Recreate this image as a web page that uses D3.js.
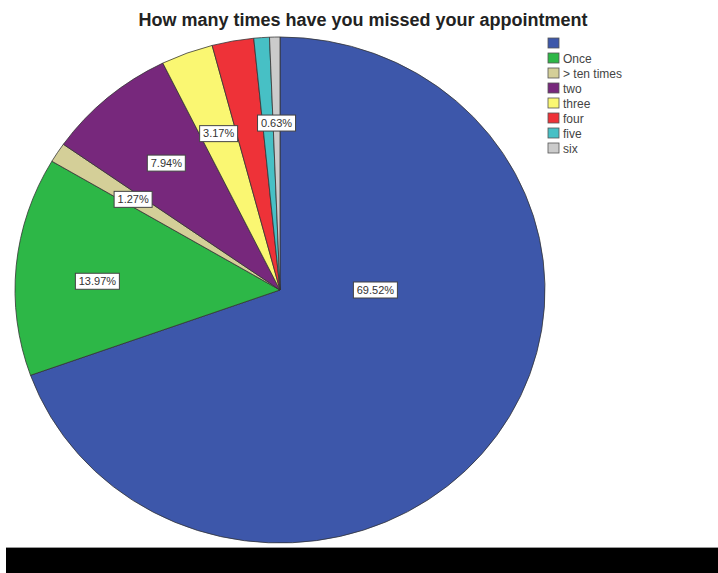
<!DOCTYPE html>
<html>
<head>
<meta charset="utf-8">
<script src="https://cdn.jsdelivr.net/npm/d3@7"></script>
<style>
  body { margin: 0; background: #fff; }
  svg { display: block; font-family: "Liberation Sans", Arial, sans-serif; }
</style>
</head>
<body>
<div id="chart"></div>
<script>
// answers, in the order the pie draws them (clockwise from 12 o'clock)
var categories = ["", "Once", "> ten times", "two", "three", "four", "five", "six"];
var percents = [69.52, 13.97, 1.27, 7.94, 3.17, 2.54, 0.95, 0.63];
var showLabel = [true, true, true, true, true, false, false, true];
var colors = ["#3d57aa", "#2db747", "#d4cf98", "#77287c", "#faf772", "#ee3238", "#47c0c5", "#cbcbcb"];

var width = 718, height = 573;
var cx = 280, cy = 290, rx = 265, ry = 253;

var svg = d3.select("#chart")
  .append("svg")
    .attr("width", width)
    .attr("height", height);

svg.append("text")
    .attr("x", 363)
    .attr("y", 26)
    .attr("text-anchor", "middle")
    .style("font-size", "18px")
    .style("font-weight", "bold")
    .attr("fill", "#222")
    .text("How many times have you missed your appointment");

var pie = d3.pie().sort(null).value(function(d) { return d; });
var arcs = pie(percents);
var arc = d3.arc().innerRadius(0).outerRadius(rx);

// slightly squashed, like the source image
var g = svg.append("g")
    .attr("transform", "translate(" + cx + "," + cy + ") scale(1," + (ry / rx) + ")");

g.selectAll("path")
  .data(arcs)
  .enter()
  .append("path")
    .attr("d", arc)
    .attr("fill", function(d, i) { return colors[i]; })
    .attr("stroke", "#333")
    .attr("stroke-width", 0.8);

// labels: most sit on the mid angle at ~0.65 of the radius, the big one is pulled toward the center
function labelPos(d, i) {
  var a, r;
  if (i === 0) { a = Math.PI / 2; r = 0.36; }
  else if (i === 1) { a = (d.startAngle + d.endAngle) / 2 - 0.045; r = 0.69; }
  else { a = (d.startAngle + d.endAngle) / 2; r = 0.66; }
  return [cx + Math.sin(a) * rx * r, cy - Math.cos(a) * ry * r];
}

var labels = svg.selectAll("g.lab")
  .data(arcs.filter(function(d, i) { return showLabel[i]; }))
  .enter()
  .append("g")
    .attr("class", "lab")
    .attr("transform", function(d) {
      var p = labelPos(d, d.index);
      return "translate(" + p[0] + "," + p[1] + ")";
    });

labels.append("rect")
    .attr("x", function(d) { return d.value >= 10 ? -22 : -19; })
    .attr("y", -8)
    .attr("width", function(d) { return d.value >= 10 ? 44 : 38; })
    .attr("height", 16)
    .attr("fill", "#fff")
    .attr("stroke", "#444")
    .attr("stroke-width", 1);

labels.append("text")
    .attr("text-anchor", "middle")
    .attr("dy", "0.35em")
    .style("font-size", "11px")
    .attr("fill", "#333")
    .text(function(d) { return d.value.toFixed(2) + "%"; });

// legend
var legend = svg.selectAll("g.leg")
  .data(categories)
  .enter()
  .append("g")
    .attr("class", "leg")
    .attr("transform", function(d, i) { return "translate(548," + (38 + i * 15) + ")"; });

legend.append("rect")
    .attr("width", 11)
    .attr("height", 10)
    .attr("fill", function(d, i) { return colors[i]; })
    .attr("stroke", "#555")
    .attr("stroke-width", 0.8);

legend.append("text")
    .attr("x", 15)
    .attr("y", 9.5)
    .style("font-size", "12px")
    .attr("fill", "#444")
    .text(function(d) { return d; });

// black strip along the bottom of the screenshot
svg.append("rect")
    .attr("x", 6)
    .attr("y", 547)
    .attr("width", width - 6)
    .attr("height", 1)
    .attr("fill", "#999");
svg.append("rect")
    .attr("x", 6)
    .attr("y", 548)
    .attr("width", width - 6)
    .attr("height", height - 548)
    .attr("fill", "#000");
</script>
</body>
</html>
